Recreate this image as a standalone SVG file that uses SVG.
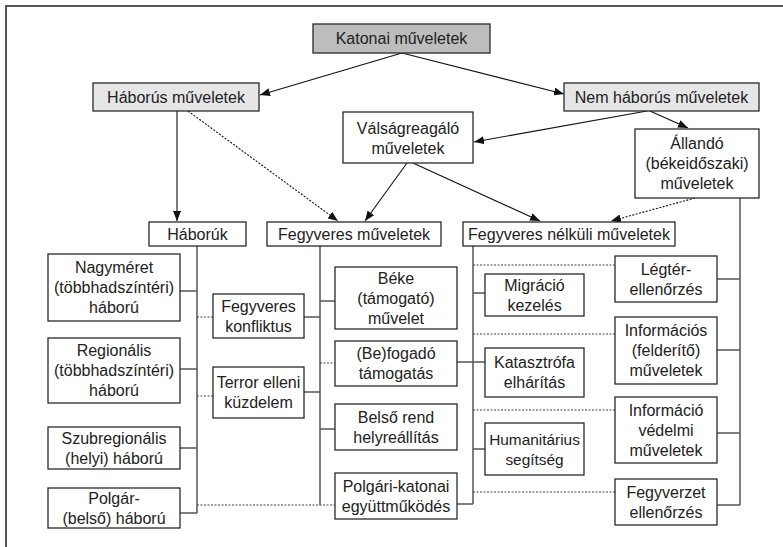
<svg xmlns="http://www.w3.org/2000/svg" width="783" height="547" viewBox="0 0 783 547">
<defs>
<style>
.box{fill:#fff;stroke:#2a2a2a;stroke-width:1.3}
.g1{fill:#bdbdbd}
.g2{fill:#e6e6e6}
text{font-family:"Liberation Sans",Arial,sans-serif;font-size:16px;fill:#222;text-anchor:middle}
.t{stroke:#555;stroke-width:1.5;fill:none}
.d{stroke:#444;stroke-width:1.2;fill:none;stroke-dasharray:2 1.5}
.a{stroke:#111;stroke-width:1.1;fill:none;marker-end:url(#ah)}
.ad{stroke:#111;stroke-width:1.1;fill:none;stroke-dasharray:2 1.5;marker-end:url(#ah)}
</style>
<marker id="ah" viewBox="0 0 10 8" refX="10" refY="4" markerWidth="10" markerHeight="8" markerUnits="userSpaceOnUse" orient="auto">
<path d="M0,0 L10,4 L0,8 z" fill="#111"/>
</marker>
</defs>
<rect width="783" height="547" fill="#fff"/>
<path d="M6,547 V6 H783" stroke="#555" stroke-width="2" fill="none"/>

<g id="connectors">
<line class="a" x1="402" y1="53" x2="260" y2="95"/>
<line class="a" x1="402" y1="53" x2="564" y2="94"/>
<line class="a" x1="177" y1="111" x2="177" y2="221"/>
<line class="ad" x1="188" y1="111" x2="338" y2="221"/>
<line class="a" x1="407" y1="163" x2="365" y2="221"/>
<line class="a" x1="413" y1="163" x2="540" y2="221"/>
<line class="a" x1="647" y1="111" x2="474" y2="142"/>
<line class="a" x1="650" y1="111" x2="688" y2="128"/>
<line class="ad" x1="695" y1="198" x2="611" y2="221"/>

<path class="t" d="M197,246 V513 M180,291 H197 M180,369 H197 M180,448 H197 M180,513 H197"/>
<path class="d" d="M197,317 H213 M197,396 H213 M197,505 H335"/>
<path class="t" d="M320,246 V505 M304,317 H320 M304,392 H320 M320,301 H335 M320,429 H335"/>
<path class="d" d="M320,363 H335"/>
<path class="t" d="M473,246 V504 M473,293 H485 M457,362 H485 M473,449 H485 M457,504 H473"/>
<path class="d" d="M473,265 H615 M473,334 H615 M473,410 H615 M473,492 H615"/>
<path class="t" d="M740,198 V505 M717,279 H740 M717,350 H740 M717,433 H740 M717,505 H740"/>
</g>

<g id="katonai"><rect class="box g1" x="313" y="24" width="177" height="29"/><text x="401.5" y="44">Katonai műveletek</text></g>
<g id="haborus"><rect class="box g2" x="93" y="83" width="166" height="28"/><text x="176" y="102.5">Háborús műveletek</text></g>
<g id="nemhaborus"><rect class="box g2" x="564" y="83" width="195" height="28"/><text x="661.5" y="102.5">Nem háborús műveletek</text></g>
<g id="valsag"><rect class="box" x="343" y="112" width="130" height="51"/><text x="408" y="134">Válságreagáló<tspan x="408" dy="20">műveletek</tspan></text></g>
<g id="allando"><rect class="box" x="635" y="129" width="124" height="69"/><text x="697" y="149">Állandó<tspan x="697" dy="20">(békeidőszaki)</tspan><tspan x="697" dy="20">műveletek</tspan></text></g>

<g id="haboruk"><rect class="box" x="149" y="222" width="97" height="24"/><text x="197.5" y="239.5">Háborúk</text></g>
<g id="fegyveres"><rect class="box" x="267" y="222" width="174" height="24"/><text x="354" y="239.5">Fegyveres műveletek</text></g>
<g id="nelkuli"><rect class="box" x="463" y="222" width="212" height="24"/><text x="569" y="239.5">Fegyveres nélküli műveletek</text></g>

<g id="nagymeret"><rect class="box" x="48" y="254" width="132" height="67"/><text x="114" y="273">Nagyméret<tspan x="114" dy="20">(többhadszíntéri)</tspan><tspan x="114" dy="20">háború</tspan></text></g>
<g id="regionalis"><rect class="box" x="48" y="338" width="132" height="65"/><text x="114" y="356">Regionális<tspan x="114" dy="20">(többhadszíntéri)</tspan><tspan x="114" dy="20">háború</tspan></text></g>
<g id="szubregionalis"><rect class="box" x="48" y="427" width="132" height="42"/><text x="114" y="443.5">Szubregionális<tspan x="114" dy="20">(helyi) háború</tspan></text></g>
<g id="polgar"><rect class="box" x="48" y="488" width="132" height="40"/><text x="114" y="503.5">Polgár-<tspan x="114" dy="20">(belső) háború</tspan></text></g>

<g id="konfliktus"><rect class="box" x="213" y="294" width="91" height="44"/><text x="258.5" y="311.5">Fegyveres<tspan x="258.5" dy="20">konfliktus</tspan></text></g>
<g id="terror"><rect class="box" x="213" y="367" width="91" height="51"/><text x="258.5" y="388">Terror elleni<tspan x="258.5" dy="20">küzdelem</tspan></text></g>

<g id="beke"><rect class="box" x="335" y="267" width="122" height="62"/><text x="396" y="284">Béke<tspan x="396" dy="20">(támogató)</tspan><tspan x="396" dy="20">művelet</tspan></text></g>
<g id="befogado"><rect class="box" x="335" y="341" width="122" height="45"/><text x="396" y="359">(Be)fogadó<tspan x="396" dy="20">támogatás</tspan></text></g>
<g id="belso"><rect class="box" x="335" y="404" width="122" height="46"/><text x="396" y="422.5">Belső rend<tspan x="396" dy="20">helyreállítás</tspan></text></g>
<g id="polgarikatonai"><rect class="box" x="335" y="473" width="122" height="46"/><text x="396" y="491.5">Polgári-katonai<tspan x="396" dy="20">együttműködés</tspan></text></g>

<g id="migracio"><rect class="box" x="485" y="274" width="99" height="42"/><text x="534.5" y="290.5">Migráció<tspan x="534.5" dy="20">kezelés</tspan></text></g>
<g id="katasztrofa"><rect class="box" x="485" y="348" width="99" height="49"/><text x="534.5" y="368">Katasztrófa<tspan x="534.5" dy="20">elhárítás</tspan></text></g>
<g id="humanitarius"><rect class="box" x="485" y="423" width="99" height="52"/><text x="534.5" y="444.5" style="font-size:15.4px">Humanitárius<tspan x="534.5" dy="20">segítség</tspan></text></g>

<g id="legter"><rect class="box" x="615" y="256" width="102" height="46"/><text x="666" y="274.5">Légtér-<tspan x="666" dy="20">ellenőrzés</tspan></text></g>
<g id="informacios"><rect class="box" x="615" y="317" width="102" height="67"/><text x="666" y="336">Információs<tspan x="666" dy="20">(felderítő)</tspan><tspan x="666" dy="20">műveletek</tspan></text></g>
<g id="vedelmi"><rect class="box" x="615" y="397" width="102" height="66"/><text x="666" y="415.5">Információ<tspan x="666" dy="20">védelmi</tspan><tspan x="666" dy="20">műveletek</tspan></text></g>
<g id="fegyverzet"><rect class="box" x="615" y="479" width="102" height="46"/><text x="666" y="497.5">Fegyverzet<tspan x="666" dy="20">ellenőrzés</tspan></text></g>
</svg>
